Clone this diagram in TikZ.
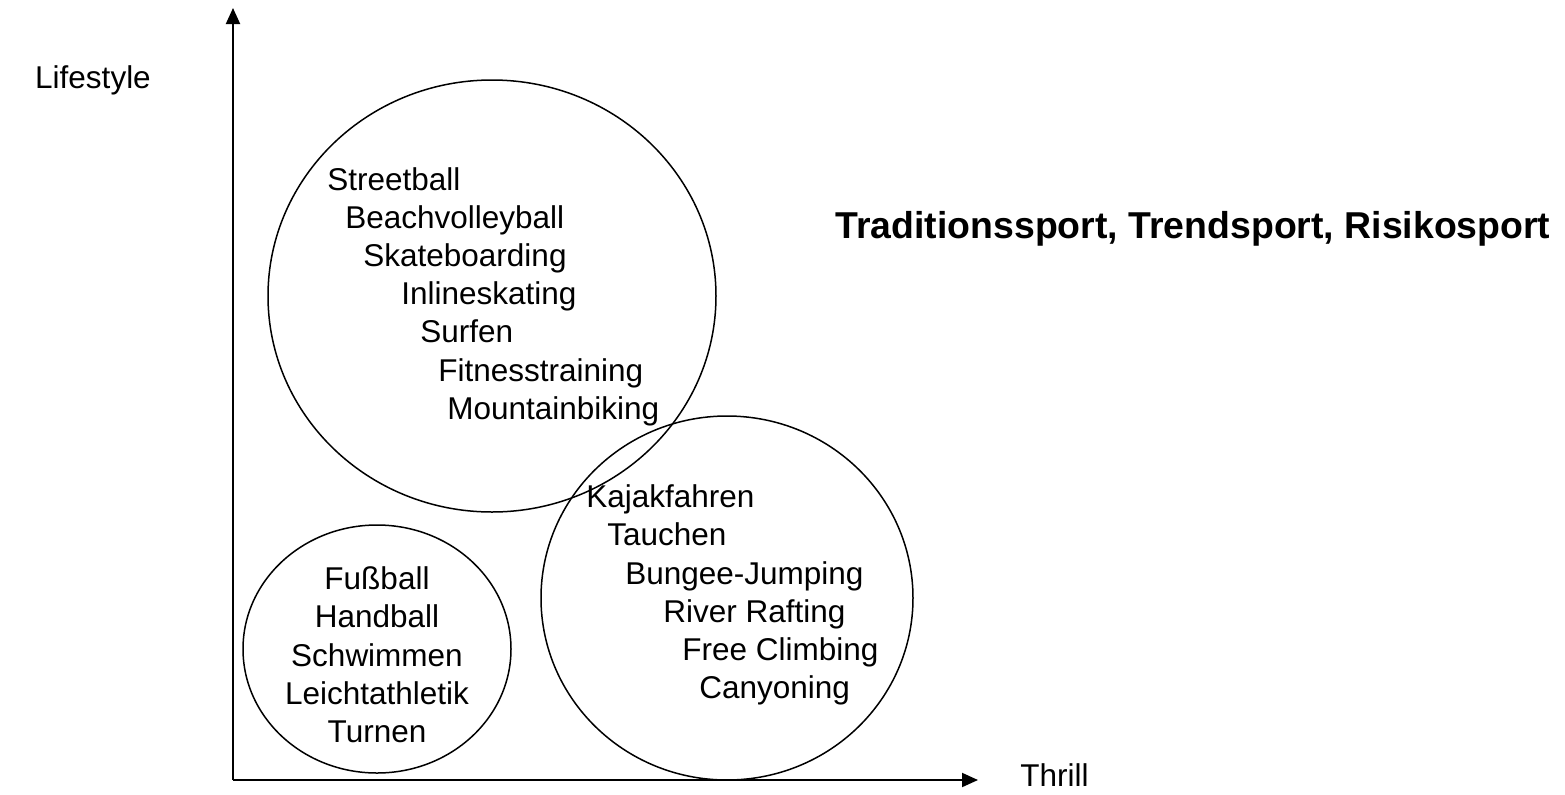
\documentclass[tikz,border=0pt]{standalone}
\usepackage{fontspec}
\setmainfont{Liberation Sans}
\usetikzlibrary{arrows.meta}

\begin{document}
\begin{tikzpicture}[
    x=0.5pt, y=-0.5pt,
    every node/.style={font=\fontsize{15.75}{18}\selectfont, inner sep=0pt, text height=0.72em, text depth=0pt},
    sport/.style={anchor=west},
    group/.style={draw, line width=0.75pt},
    axis/.style={-{Triangle[length=8pt, width=7pt]}, line width=1pt},
    title/.style={font=\fontsize{18.7}{22}\selectfont\bfseries}
]
\useasboundingbox (0,0) rectangle (1565,794);

% ============ AXES ============
\coordinate (origin) at (233,780);
\coordinate (ytip) at (233,8);
\coordinate (xtip) at (978,780);
\draw[axis] (origin) -- (ytip);
\draw[axis] (origin) -- (xtip);

\node (lifestyle) at (93,81) {Lifestyle};
\node[anchor=west] (thrill) at (1020,779) {Thrill};

% ============ GROUPS ============
\draw[group] (492,296) ellipse [x radius=224, y radius=216];
\draw[group] (377,649) ellipse [x radius=134, y radius=124];
\draw[group] (727,598) ellipse [x radius=186, y radius=182];

% Trendsport (top)
\node[sport] (streetball) at (327,183) {Streetball};
\node[sport] (beach) at (345,221) {Beachvolleyball};
\node[sport] (skate) at (363,259) {Skateboarding};
\node[sport] (inline) at (401,297) {Inlineskating};
\node[sport] (surf) at (420,335) {Surfen};
\node[sport] (fitness) at (438,374) {Fitnesstraining};
\node[sport] (mtb) at (447,412) {Mountainbiking};

% Traditionssport (bottom left)
\node (fussball) at (377,582) {Fußball};
\node (handball) at (377,620) {Handball};
\node (schwimmen) at (377,659) {Schwimmen};
\node (leicht) at (377,697) {Leichtathletik};
\node (turnen) at (377,735) {Turnen};

% Risikosport (bottom right)
\node[sport] (kajak) at (586,500) {Kajakfahren};
\node[sport] (tauchen) at (607,538) {Tauchen};
\node[sport] (bungee) at (625,577) {Bungee-Jumping};
\node[sport] (rafting) at (663,615) {River Rafting};
\node[sport] (climbing) at (682,653) {Free Climbing};
\node[sport] (canyon) at (699,691) {Canyoning};

% Title
\node[title] (heading) at (1193,231) {Traditionssport, Trendsport, Risikosport};

\end{tikzpicture}
\end{document}
